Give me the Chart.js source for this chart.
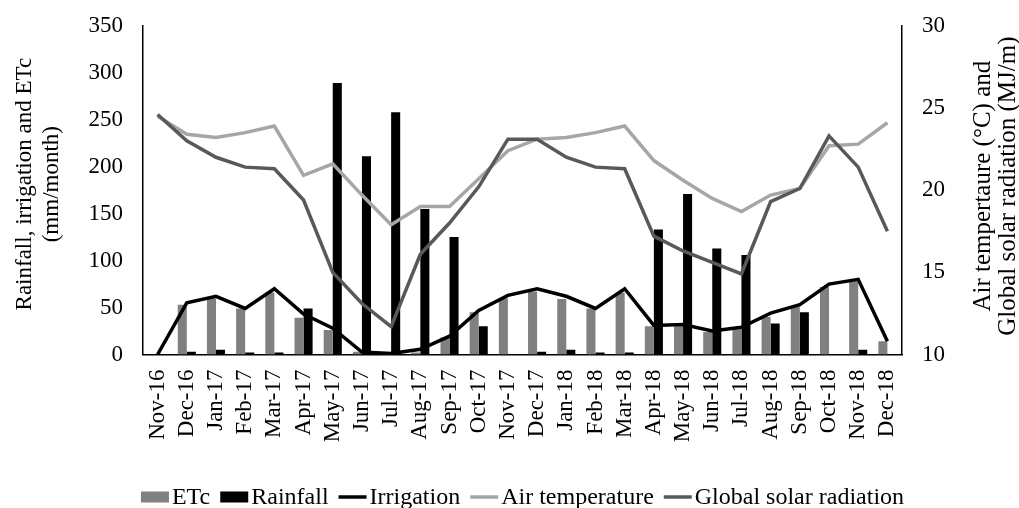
<!DOCTYPE html>
<html>
<head>
<meta charset="utf-8">
<script src="https://cdn.jsdelivr.net/npm/chart.js@4"></script>
<style>
  body { margin: 0; background: #fff; }
  #wrap { width: 1019px; height: 508px; }
</style>
</head>
<body>
<div id="wrap"><canvas id="climateChart" width="1019" height="508"></canvas></div>
<script>
// ---- data ----
const months = ['Nov-16', 'Dec-16', 'Jan-17', 'Feb-17', 'Mar-17', 'Apr-17', 'May-17', 'Jun-17', 'Jul-17',
    'Aug-17', 'Sep-17', 'Oct-17', 'Nov-17', 'Dec-17', 'Jan-18', 'Feb-18', 'Mar-18', 'Apr-18', 'May-18',
    'Jun-18', 'Jul-18', 'Aug-18', 'Sep-18', 'Oct-18', 'Nov-18', 'Dec-18'];

// mm/month (left axis)
const etc = [0, 53, 60, 49, 66, 39, 26, 3, 1, 2, 18, 45, 60, 67, 59, 49, 66, 30, 30, 24, 27, 40, 51, 72, 78, 14];
const rainfall = [0, 3, 5, 2, 2, 49, 289, 211, 258, 155, 125, 30, 0, 3, 5, 2, 2, 133, 171, 113, 106, 33, 45, 0, 5, 0];
const irrigation = [0, 55, 62, 49, 70, 43, 28, 2.6, 1, 5.5, 19.5, 47, 63, 70, 62, 49, 70, 31, 32, 25, 29, 44, 53, 75, 80, 14];

// °C and MJ/m (right axis)
const airTemperature = [24.5, 23.4, 23.2, 23.5, 23.9, 20.9, 21.6, 19.7, 17.9, 19.0, 19.0, 20.7, 22.4,
    23.1, 23.2, 23.5, 23.9, 21.8, 20.6, 19.5, 18.7, 19.7, 20.1, 22.7, 22.8, 24.1];
const solarRadiation = [24.6, 23.0, 22.0, 21.4, 21.3, 19.4, 15.0, 13.1, 11.7, 16.1, 18.0, 20.2, 23.1,
    23.1, 22.0, 21.4, 21.3, 17.2, 16.3, 15.6, 14.9, 19.3, 20.1, 23.3, 21.4, 17.5];

const leftTitle = ['Rainfall, irrigation and ETc', '(mm/month)'];
const rightTitle = ['Air tempertaure (°C) and', 'Global solar radiation (MJ/m)'];

const FONT = '"Liberation Serif", "Times New Roman", serif';

// both axis titles read bottom-to-top, Chart.js would flip the right one, so draw them here
function drawVerticalTitle(ctx, lines, x, y, size, spacing) {
    ctx.save();
    ctx.font = size + 'px ' + FONT;
    ctx.fillStyle = '#000';
    ctx.textAlign = 'center';
    ctx.textBaseline = 'middle';
    ctx.translate(x, y);
    ctx.rotate(-Math.PI / 2);
    lines.forEach((line, i) => ctx.fillText(line, 0, i * spacing));
    ctx.restore();
}

const axisTitlePlugin = {
    id: 'axisTitles',
    afterDraw(chart) {
        const ctx = chart.ctx;
        const mid = (chart.chartArea.top + chart.chartArea.bottom) / 2;
        drawVerticalTitle(ctx, leftTitle, 25, mid - 6, 23, 27);
        drawVerticalTitle(ctx, rightTitle, 983, mid - 4, 25, 25);
    }
};

// bottom legend: boxes for bars, short strokes for lines
const legendPlugin = {
    id: 'bottomLegend',
    afterDraw(chart) {
        const ctx = chart.ctx;
        const area = chart.chartArea;
        ctx.save();
        ctx.font = '24px ' + FONT;
        ctx.textBaseline = 'middle';
        ctx.textAlign = 'left';
        const boxW = 28, textGap = 3, itemGap = 10, cy = 497;
        const items = chart.data.datasets.map(ds => ({
            label: ds.label,
            isBar: ds.type === 'bar',
            color: ds.type === 'bar' ? ds.backgroundColor : ds.borderColor,
            width: boxW + textGap + ctx.measureText(ds.label).width
        }));
        const total = items.reduce((s, it) => s + it.width, 0) + itemGap * (items.length - 1);
        let x = (area.left + area.right) / 2 - total / 2;
        items.forEach(it => {
            if (it.isBar) {
                ctx.fillStyle = it.color;
                ctx.fillRect(x, cy - 5.5, boxW, 11);
            } else {
                ctx.strokeStyle = it.color;
                ctx.lineWidth = 3.5;
                ctx.beginPath();
                ctx.moveTo(x, cy);
                ctx.lineTo(x + boxW, cy);
                ctx.stroke();
            }
            ctx.fillStyle = '#000';
            ctx.fillText(it.label, x + boxW + textGap, cy + 1);
            x += it.width + itemGap;
        });
        ctx.restore();
    }
};

const ctx = document.getElementById('climateChart').getContext('2d');

new Chart(ctx, {
    data: {
        labels: months,
        datasets: [
            {
                type: 'bar',
                label: 'ETc',
                data: etc,
                backgroundColor: '#808080',
                yAxisID: 'y',
                order: 3,
                categoryPercentage: 0.62,
                barPercentage: 1.0
            },
            {
                type: 'bar',
                label: 'Rainfall',
                data: rainfall,
                backgroundColor: '#000000',
                yAxisID: 'y',
                order: 3,
                categoryPercentage: 0.62,
                barPercentage: 1.0
            },
            {
                type: 'line',
                label: 'Irrigation',
                data: irrigation,
                borderColor: '#000000',
                borderWidth: 3.5,
                pointRadius: 0,
                tension: 0,
                yAxisID: 'y',
                order: 0
            },
            {
                type: 'line',
                label: 'Air temperature',
                data: airTemperature,
                borderColor: '#a6a6a6',
                borderWidth: 3.5,
                pointRadius: 0,
                tension: 0,
                yAxisID: 'y1',
                order: 2
            },
            {
                type: 'line',
                label: 'Global solar radiation',
                data: solarRadiation,
                borderColor: '#595959',
                borderWidth: 3.5,
                pointRadius: 0,
                tension: 0,
                yAxisID: 'y1',
                order: 1
            }
        ]
    },
    options: {
        responsive: false,
        animation: false,
        layout: { padding: { top: 22, left: 0, right: 0, bottom: 0 } },
        plugins: {
            legend: { display: false },
            tooltip: { enabled: false }
        },
        scales: {
            x: {
                offset: true,
                grid: { display: false },
                border: { display: true, color: '#000', width: 1.5 },
                ticks: {
                    color: '#000',
                    font: { family: FONT, size: 23 },
                    minRotation: 90,
                    maxRotation: 90,
                    autoSkip: false,
                    padding: 7
                },
                afterFit: (scale) => { scale.height = 153.5; }
            },
            y: {
                position: 'left',
                min: 0,
                max: 350,
                grid: { display: false },
                border: { display: true, color: '#000', width: 1.5 },
                ticks: {
                    stepSize: 50,
                    color: '#000',
                    font: { family: FONT, size: 23 },
                    padding: 12
                },
                afterFit: (scale) => { scale.width = 143; }
            },
            y1: {
                position: 'right',
                min: 10,
                max: 30,
                grid: { display: false },
                border: { display: true, color: '#000', width: 1.5 },
                ticks: {
                    stepSize: 5,
                    color: '#000',
                    font: { family: FONT, size: 23 },
                    padding: 12
                },
                afterFit: (scale) => { scale.width = 117; }
            }
        }
    },
    plugins: [axisTitlePlugin, legendPlugin]
});
</script>
</body>
</html>
